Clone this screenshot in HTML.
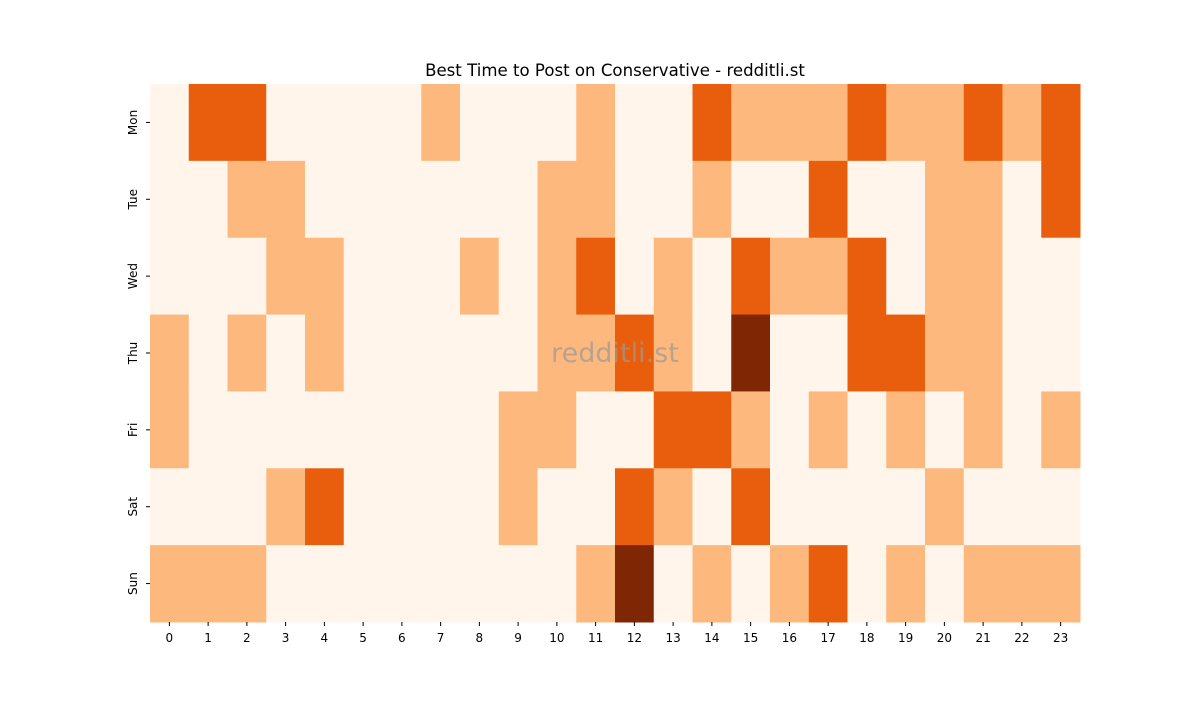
<!DOCTYPE html>
<html><head><meta charset="utf-8"><style>
body{margin:0;background:#fff;font-family:"DejaVu Sans",sans-serif}
svg text{font-family:"DejaVu Sans",sans-serif}
</style></head><body>
<svg id="chart" width="1200" height="700">
<text x="615" y="76" text-anchor="middle" font-size="16.6">Best Time to Post on Conservative - redditli.st</text>
<g id="cells"></g><g id="xt"></g><g id="yt"></g>
<text x="615" y="362" text-anchor="middle" font-size="27" fill="#999" fill-opacity="0.7">redditli.st</text>
</svg>
<script>
const days=["Mon","Tue","Wed","Thu","Fri","Sat","Sun"];
const hours=[0,1,2,3,4,5,6,7,8,9,10,11,12,13,14,15,16,17,18,19,20,21,22,23];
const mon=[0,2,2,0,0,0,0,1,0,0,0,1,0,0,2,1,1,1,2,1,1,2,1,2];
const tue=[0,0,1,1,0,0,0,0,0,0,1,1,0,0,1,0,0,2,0,0,1,1,0,2];
const wed=[0,0,0,1,1,0,0,0,1,0,1,2,0,1,0,2,1,1,2,0,1,1,0,0];
const thu=[1,0,1,0,1,0,0,0,0,0,1,1,2,1,0,3,0,0,2,2,1,1,0,0];
const fri=[1,0,0,0,0,0,0,0,0,1,1,0,0,2,2,1,0,1,0,1,0,1,0,1];
const sat=[0,0,0,1,2,0,0,0,0,1,0,0,2,1,0,2,0,0,0,0,1,0,0,0];
const sun=[1,1,1,0,0,0,0,0,0,0,0,1,3,0,1,0,1,2,0,1,0,1,1,1];
const rows=[mon,tue,wed,thu,fri,sat,sun];
const colors=["#fff5eb","#fdb97d","#e95e0d","#7f2704"];
const X0=150,X1=1080,Y0=84,Y1=622;
const cw=(X1-X0)/hours.length,ch=(Y1-Y0)/days.length;
const xs=i=>X0+i*cw, ys=j=>Y0+j*ch;
const ns="http://www.w3.org/2000/svg";
const cells=document.getElementById('cells');
rows.forEach((r,j)=>r.forEach((v,i)=>{
const el=document.createElementNS(ns,'rect');
el.setAttribute('x',xs(i));el.setAttribute('y',ys(j));
el.setAttribute('width',cw+0.5);el.setAttribute('height',ch+0.5);
el.setAttribute('fill',colors[v]);


cells.appendChild(el);}));
const xt=document.getElementById('xt');
hours.forEach((h,i)=>{const cx=xs(i)+cw/2;
const l=document.createElementNS(ns,'line');l.setAttribute('x1',cx);l.setAttribute('x2',cx);l.setAttribute('y1',Y1);l.setAttribute('y2',Y1+4);l.setAttribute('stroke','#000');xt.appendChild(l);
const t=document.createElementNS(ns,'text');t.setAttribute('x',cx);t.setAttribute('y',Y1+20);t.setAttribute('text-anchor','middle');t.setAttribute('font-size','12');t.textContent=h;


xt.appendChild(t);});
const yt=document.getElementById('yt');
days.forEach((d,j)=>{const cy=ys(j)+ch/2;
const l=document.createElementNS(ns,'line');l.setAttribute('x1',X0-4);l.setAttribute('x2',X0);l.setAttribute('y1',cy);l.setAttribute('y2',cy);l.setAttribute('stroke','#000');yt.appendChild(l);
const t=document.createElementNS(ns,'text');t.setAttribute('transform','translate('+(X0-13)+','+cy+') rotate(-90)');t.setAttribute('text-anchor','middle');t.setAttribute('font-size','12');t.textContent=d;


yt.appendChild(t);});
</script>
</body></html>
